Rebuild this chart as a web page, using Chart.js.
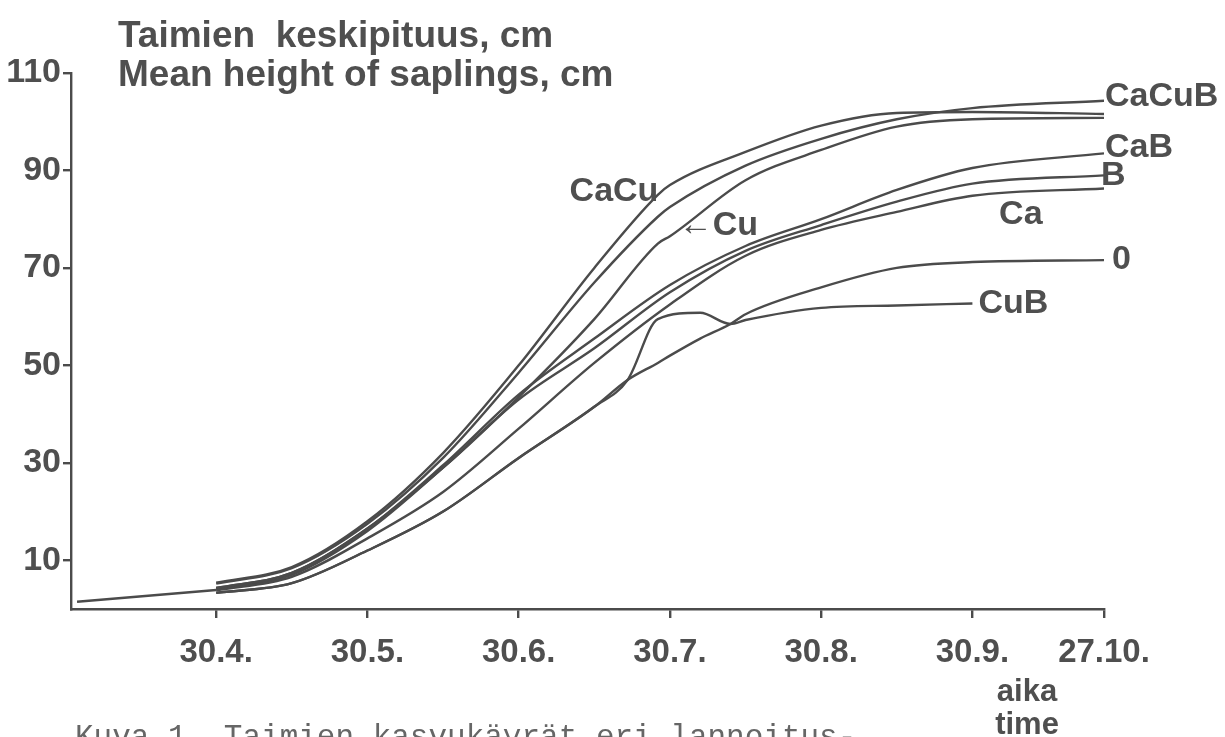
<!DOCTYPE html>
<html>
<head>
<meta charset="utf-8">
<script src="https://cdn.jsdelivr.net/npm/chart.js@4.4.0/dist/chart.umd.min.js"></script>
<style>
  html, body { margin: 0; padding: 0; background: #fff; }
  #wrap { width: 1225px; height: 737px; position: relative; }
</style>
</head>
<body>
<div id="wrap"><canvas id="growthChart"></canvas></div>
<script>
// time axis in months after 30.4. (one tick per month, last one 27.10.)
const months = [-0.92, 0, 0.5, 1, 1.5, 2, 2.5, 2.72, 2.92, 3, 3.2, 3.4, 3.5, 4, 4.5, 5, 5.87]
const tickMonths = [0, 1, 2, 3, 4, 5, 5.87]
const tickLabels = ['30.4.', '30.5.', '30.6.', '30.7.', '30.8.', '30.9.', '27.10.']
const heightTicks = [10, 30, 50, 70, 90, 110]

// mean height of saplings, cm
const startLine = [1.5, 3.9, null, null, null, null, null, null, null, null, null, null, null, null, null, null, null]
const caCuB = [null, 5.2, 8.4, 17.5, 31, 48.5, 67, null, 80.5, 82.5, null, null, 91, 96.5, 100.5, 102.8, 104.3]
const caCu = [null, 5.4, 8.6, 18, 32, 50, 70, null, 85, 87, null, null, 93.8, 99.2, 101.8, 102, 101.6]
const cu = [null, 4.3, 7.4, 16.5, 29, 43.5, 59.5, null, 75, 76.5, null, null, 88, 94.2, 99, 100.5, 100.8]
const caB = [null, 4.3, 7.4, 16.5, 29.5, 44, 55.5, null, null, 66.5, null, null, 74.5, 80, 86, 90.5, 93.5]
const b = [null, 4.0, 7.0, 16, 29, 43, 53.5, null, null, 65, null, null, 73.5, 78.8, 83.6, 87.3, 89]
const ca = [null, 3.8, 6.6, 14.5, 24, 37, 50.5, null, null, 62.5, null, null, 72.5, 77.8, 81.5, 84.8, 86.3]
const zero = [null, 3.3, 5.3, 12, 20, 31, 41.5, 47, 50.5, 52, 55.5, 58.5, 60.5, 66, 70, 71.2, 71.6]
const cuB = [null, 3.3, 5.3, 12, 20, 31, 41.5, 47, 59.5, null, 60.8, 58.5, 59.3, 61.8, 62.3, 62.7, null]

const seriesNames = ['', 'CaCuB', 'CaCu', 'Cu', 'CaB', 'B', 'Ca', '0', 'CuB']
const seriesValues = [startLine, caCuB, caCu, cu, caB, b, ca, zero, cuB]

const ink = '#4b4b4b'
const textInk = '#4f4f4f'
const boldFont = '"Liberation Sans", Arial, sans-serif'

// label offsets at the end of a line, or free placement in data units
const endLabels = { CaCuB: [1, -4], CaB: [1, -6], B: [-3, 0], '0': [8, 0], CuB: [6, 0] }
const floatLabels = [
  { text: 'CaCu', m: 2.63, v: 85.6 },
  { text: '\u2190Cu', m: 3.32, v: 78.6 },
  { text: 'Ca', m: 5.32, v: 80.9 },
]

const toPoints = (vals) =>
  months.map((m, i) => ({ x: m, y: vals[i] })).filter((p) => p.y !== null)

const textPlugin = {
  id: 'figureText',
  afterDraw(chart) {
    const { ctx, scales } = chart
    const x = scales.x
    const y = scales.y
    ctx.save()
    ctx.fillStyle = textInk

    // axis title
    ctx.font = 'bold 37px ' + boldFont
    ctx.textAlign = 'left'
    ctx.textBaseline = 'alphabetic'
    ctx.fillText('Taimien  keskipituus, cm', 118, 47)
    ctx.fillText('Mean height of saplings, cm', 118, 86)

    // line names
    ctx.font = 'bold 34px ' + boldFont
    ctx.textBaseline = 'middle'
    chart.data.datasets.forEach((ds) => {
      const off = endLabels[ds.label]
      if (!off) return
      const last = ds.data[ds.data.length - 1]
      ctx.fillText(ds.label, x.getPixelForValue(last.x) + off[0], y.getPixelForValue(last.y) + off[1])
    })
    ctx.textAlign = 'center'
    floatLabels.forEach((l) => {
      ctx.fillText(l.text, x.getPixelForValue(l.m), y.getPixelForValue(l.v))
    })

    // time axis name
    ctx.font = 'bold 31px ' + boldFont
    ctx.textBaseline = 'alphabetic'
    ctx.fillText('aika', 1027, 701)
    ctx.fillText('time', 1027, 734)

    // caption, cut by the page edge
    ctx.font = '31px "Liberation Mono", "Courier New", monospace'
    ctx.fillStyle = '#666'
    ctx.textAlign = 'left'
    ctx.fillText('Kuva 1. Taimien kasvukäyrät eri lannoitus-', 75, 746)
    ctx.restore()
  },
}

const ctx = document.getElementById('growthChart').getContext('2d')
const growthChart = new Chart(ctx, {
  type: 'line',
  data: {
    datasets: seriesValues.map((vals, i) => ({
      label: seriesNames[i],
      data: toPoints(vals),
      borderColor: ink,
      borderWidth: 2.4,
      pointRadius: 0,
      fill: false,
      cubicInterpolationMode: 'monotone',
    })),
  },
  options: {
    responsive: true,
    maintainAspectRatio: false,
    animation: false,
    layout: { padding: { left: 0, top: 73, right: 121, bottom: 68 } },
    plugins: {
      legend: { display: false },
      tooltip: { enabled: false },
    },
    scales: {
      x: {
        type: 'linear',
        min: -0.96,
        max: 5.87,
        afterBuildTicks: (s) => {
          s.ticks = tickMonths.map((v) => ({ value: v }))
        },
        afterFit: (s) => {
          s.height = 60
        },
        grid: { drawOnChartArea: false, drawTicks: true, tickLength: 9, color: ink, lineWidth: 2.4 },
        border: { display: true, color: ink, width: 2.4 },
        ticks: {
          color: textInk,
          font: { family: boldFont, size: 33, weight: 'bold' },
          padding: 15,
          autoSkip: false,
          maxRotation: 0,
          callback: (value, index) => tickLabels[index],
        },
      },
      y: {
        min: 0,
        max: 110,
        afterBuildTicks: (s) => {
          s.ticks = heightTicks.map((v) => ({ value: v }))
        },
        afterFit: (s) => {
          s.width = 71
        },
        grid: { drawOnChartArea: false, drawTicks: true, tickLength: 8, color: ink, lineWidth: 2.4 },
        border: { display: true, color: ink, width: 2.4 },
        ticks: {
          color: textInk,
          font: { family: boldFont, size: 34, weight: 'bold' },
          padding: 2,
        },
      },
    },
  },
  plugins: [textPlugin],
})
</script>
</body>
</html>
